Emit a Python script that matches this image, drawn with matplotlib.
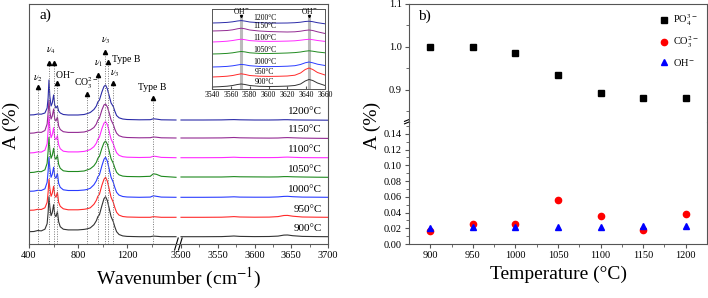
import numpy as np
import matplotlib
matplotlib.use('Agg')
import matplotlib.pyplot as plt
from matplotlib.ticker import FixedLocator, MultipleLocator

plt.rcParams['font.family'] = ['Liberation Serif', 'DejaVu Serif']
plt.rcParams['mathtext.fontset'] = 'stix'

# ---------------- data: panel a (FTIR spectra, a.u., offset per temperature) ----------------
temps = ['900', '950', '1000', '1050', '1100', '1150', '1200']
colors = ['#333333', '#ff2a2a', '#2a3cff', '#1f8a1f', '#ff2aff', '#932a93', '#2a2aa8']
offsets = [7.3, 26.7, 46.7, 66.7, 86.3, 106, 124]

wn_left = [400, 440, 472, 500, 530, 548, 556, 563, 570, 580, 590, 601, 610, 620, 632, 642,
           655, 680, 720, 800, 850, 873, 900, 930, 950, 962, 975, 995, 1012, 1025, 1040,
           1055, 1070, 1088, 1100, 1115, 1135, 1165, 1200, 1300, 1390, 1415, 1440, 1480, 1600]

ab_900 = [5.0, 5.2, 6.2, 5.8, 7.5, 13, 24, 40, 30, 21, 24, 32, 22, 20, 25, 15, 10, 7.5, 6.8,
          6.8, 7.3, 7.8, 8.8, 12, 16, 20, 22, 31, 38, 40, 36, 28, 20, 15, 10, 5, 2.2, 0.8,
          0.3, 0, 0, 0.6, 0.4, 0, 0]
ab_950 = [7, 7.2, 8, 7.8, 9.5, 15, 25, 38, 29, 21, 24, 31, 22, 20, 25, 15, 11, 8.5, 7.5,
          7.5, 8, 8.5, 9.5, 13, 17, 21, 23, 32, 38, 40, 36, 28, 20, 15, 10, 5, 2.2, 0.8,
          0.3, 0, 0, 0.6, 0.4, 0, 0]
ab_1000 = [6, 6.2, 7, 6.8, 8.5, 15, 26, 40, 29, 20, 23, 30, 21, 19, 24, 14, 10, 7.5, 6.8,
           6.8, 7.3, 7.8, 9, 12.5, 16.5, 20.5, 22.5, 31.5, 38, 40, 36, 28, 20, 15, 10, 5,
           2.2, 0.8, 0.3, 0, 0.2, 1.5, 1, 0.2, 0]
ab_1050 = [4.7, 5, 5.8, 5.6, 7.5, 14, 26, 40, 28, 19, 22, 29, 20, 18, 22, 13, 9, 6.5, 5.8,
           5.8, 6.3, 7.3, 8.5, 11.5, 15, 19, 21, 29, 34.5, 36.3, 33, 26, 18.5, 14, 9.5, 5,
           2.5, 1.2, 0.8, 0.6, 1, 3.5, 3, 1, 0]
ab_1100 = [4.7, 5, 5.8, 5.6, 7.5, 14, 27, 42, 29, 20, 23, 30, 20, 18, 22, 13, 9, 6.5, 5.8,
           5.8, 6.3, 7, 8.2, 11, 14.5, 18.5, 20.5, 29, 34.5, 36, 33, 26, 18.5, 14, 9.5, 5,
           2.4, 1, 0.5, 0.2, 0.4, 1.5, 1.2, 0.3, 0]
ab_1150 = [4.7, 5, 5.8, 5.6, 7.5, 14, 25, 38, 27, 19, 22, 29, 19, 17, 21, 12, 8.5, 6.3, 5.6,
           5.6, 6, 6.8, 8, 10.5, 14, 18, 20, 28, 33, 34, 31, 25, 18, 13.5, 9, 4.8, 2.3, 1,
           0.5, 0.2, 0.3, 1, 0.8, 0.2, 0]
ab_1200 = [5, 5.2, 6, 5.8, 7, 12, 22, 40, 24, 14, 17, 25, 15, 12, 14, 9, 7, 5.5, 5, 5, 5.5,
           6.3, 7.5, 10.5, 14, 18, 20, 28, 33.5, 35, 31, 24, 17, 13.5, 9, 4.5, 2.2, 1, 0.5,
           0.2, 0.3, 1.2, 0.9, 0.2, 0]
ab_left = [ab_900, ab_950, ab_1000, ab_1050, ab_1100, ab_1150, ab_1200]

wn_right = [3500, 3530, 3555, 3565, 3572, 3580, 3600, 3620, 3632, 3640, 3645, 3652, 3665, 3685, 3700]
abr_900 = [0, 0, 0.1, 0.4, 0.7, 0.3, 0.1, 0.2, 0.6, 1.6, 1.7, 1.0, 0.3, 0.1, 0]
abr_950 = [0, 0, 0.1, 0.4, 0.7, 0.3, 0.1, 0.2, 0.7, 1.8, 1.9, 1.1, 0.3, 0.1, 0]
abr_1000 = [0, 0, 0.1, 0.3, 0.5, 0.2, 0.1, 0.1, 0.4, 0.9, 1.0, 0.6, 0.2, 0.1, 0]
abr_1050 = [0.3, 0.3, 0.3, 0.5, 0.7, 0.5, 0.4, 0.3, 0.4, 0.7, 0.7, 0.5, 0.3, 0.1, 0]
abr_1100 = [0, 0, 0.1, 0.3, 0.5, 0.2, 0.1, 0.1, 0.2, 0.5, 0.6, 0.4, 0.1, 0, 0]
abr_1150 = [0, 0, 0.1, 0.3, 0.5, 0.2, 0, -0.1, 0, 0.3, 0.4, 0.2, -0.1, -0.3, -0.4]
abr_1200 = [0, 0, 0.1, 0.3, 0.4, 0.2, 0, 0, 0.1, 0.3, 0.3, 0.1, 0, -0.1, -0.2]
ab_right = [abr_900, abr_950, abr_1000, abr_1050, abr_1100, abr_1150, abr_1200]

# inset (OH stretching region)
wn_inset = [3540, 3548, 3556, 3562, 3567, 3571, 3575, 3580, 3590, 3600, 3610, 3620, 3628,
            3634, 3639, 3643, 3647, 3652, 3660]
inset_offsets = [2, 12, 22, 35, 47, 58, 66]
in_900 = [0, 0.3, 0.8, 1.5, 2.5, 3.0, 2.5, 1.5, 0.7, 0.5, 0.6, 0.9, 1.5, 3, 6, 7.5, 6.5, 4, 1.5]
in_950 = [0, 0.3, 0.8, 1.5, 2.5, 3.2, 2.6, 1.5, 0.8, 0.6, 0.7, 1.0, 1.8, 4, 7.5, 9, 7.5, 4.5, 2]
in_1000 = [0, 0.2, 0.6, 1.2, 2, 2.6, 2.2, 1.3, 0.6, 0.4, 0.5, 0.8, 1.3, 2.5, 4.2, 5, 4.2, 2.8, 1.5]
in_1050 = [0, 0.2, 0.6, 1.2, 2, 2.5, 2.1, 1.2, 0.6, 0.5, 0.7, 1.0, 1.4, 2, 2.8, 3.2, 2.8, 2, 1.2]
in_1100 = [0, 0.3, 0.8, 1.5, 2.3, 2.8, 2.3, 1.4, 0.8, 0.6, 0.7, 0.9, 1.2, 1.8, 2.4, 2.7, 2.3, 1.5, 0.6]
in_1150 = [0, 0.2, 0.5, 1.2, 2.2, 2.8, 2.2, 1, 0, -0.5, -0.8, -1, -0.8, -0.2, 0.6, 1, 0.5, -0.8, -2.5]
in_1200 = [0, 0.2, 0.6, 1.2, 2, 2.4, 1.9, 1, 0.3, 0, -0.1, 0, 0.3, 0.8, 1.5, 1.8, 1.3, 0.3, -0.8]
ab_inset = [in_900, in_950, in_1000, in_1050, in_1100, in_1150, in_1200]
oh_bands = [3571, 3643]

# band assignments: position, arrow tip level, label, label x, label y
band_pos = [472, 563, 601, 632, 873, 962, 1020, 1046, 1088, 1415]
band_tip = [157, 181, 181, 161, 150, 169, 192, 182, 161, 146]
band_labels = [r'$\nu_2$', r'$\nu_4$', r'OH$^{-}$', r'CO$_3^{2-}$', r'$\nu_1$', r'$\nu_3$',
               'Type B', r'$\nu_3$', 'Type B']
label_x = [472, 582, 695, 866, 966, 1028, 1190, 1097, 1408]
label_y = [166, 194, 169, 161, 181, 204, 185, 171, 157]

# ---------------- data: panel b ----------------
temperature = [900, 950, 1000, 1050, 1100, 1150, 1200]
po4 = [1.000, 1.000, 0.985, 0.934, 0.893, 0.882, 0.882]
co3 = [0.017, 0.026, 0.026, 0.056, 0.036, 0.018, 0.038]
oh = [0.020, 0.022, 0.022, 0.021, 0.021, 0.023, 0.023]

frame = '#555555'

# broken wavenumber axis: 400-1600 and 3500-3700
bp_x = [400, 1600, 3500, 3700]
bp_u = [0, 147, 152, 299]


def fwd(x):
    x = np.asarray(x, float)
    u = np.interp(x, bp_x, bp_u)
    u = np.where(x < 400, (x - 400) * 0.1225, u)
    return np.where(x > 3700, 299 + (x - 3700) * 0.735, u)


def inv(u):
    u = np.asarray(u, float)
    x = np.interp(u, bp_u, bp_x)
    x = np.where(u < 0, 400 + u / 0.1225, x)
    return np.where(u > 299, 3700 + (u - 299) / 0.735, x)


fig = plt.figure(figsize=(7.08, 2.98), dpi=100)

# ---------------- panel a ----------------
ax = fig.add_axes([29 / 708, 54 / 298, 299 / 708, 240 / 298])
ax.set_xscale('function', functions=(fwd, inv))
ax.set_xlim(400, 3700)
ax.set_ylim(0, 240)

for i, t in enumerate(temps):
    ax.plot(wn_left, np.array(ab_left[i]) + offsets[i], color=colors[i], lw=0.8)
    ax.plot(wn_right, np.array(ab_right[i]) + offsets[i], color=colors[i], lw=0.8)
    ax.text(3692, offsets[i] + 8, t + '°C', ha='right', va='center', fontsize=8)

ax.vlines(band_pos, 0, band_tip, colors='#777777', linestyles=(0, (1, 1.5)), lw=0.7)
ax.plot(band_pos, band_tip, '^', color='black', ms=3, ls='none')
for lx, ly, lt in zip(label_x, label_y, band_labels):
    ax.text(lx, ly, lt, ha='center', va='center', fontsize=7)

ax.xaxis.set_major_locator(FixedLocator([400, 800, 1200, 3500, 3550, 3600, 3650, 3700]))
ax.xaxis.set_minor_locator(FixedLocator([600, 1000, 1400, 3525, 3575, 3625, 3675]))
ax.set_yticks([])
ax.tick_params(axis='x', which='major', direction='out', length=3, labelsize=7.5, color=frame, pad=2)
ax.tick_params(axis='x', which='minor', direction='out', length=2, color=frame)
for s in ax.spines.values():
    s.set_color(frame)
    s.set_linewidth(0.8)

# axis break marks
for xb in (0.493, 0.506):
    ax.plot([xb - 0.006, xb + 0.006], [-0.025, 0.025], transform=ax.transAxes,
            color='black', lw=0.8, clip_on=False)
ax.text(0.035, 0.955, 'a)', transform=ax.transAxes, fontsize=11, va='center')
ax.set_xlabel('Wavenumber (cm$^{-1}$)', fontsize=14, labelpad=4)
fig.text(11 / 708, 1 - 125 / 298, 'A (%)', rotation=90, fontsize=14, ha='center', va='center')

# inset
axi = fig.add_axes([212 / 708, 209 / 298, 113 / 708, 80 / 298])
axi.set_xlim(3540, 3660)
axi.set_ylim(0, 80)
for xb in oh_bands:
    axi.axvline(xb, ymax=0.9, color='#bbbbbb', lw=2.2, zorder=0)
    axi.text(xb, 78, r'OH$^{-}$', ha='center', va='center', fontsize=5.5)
    axi.plot(xb, 73.5, 'v', color='black', ms=1.5)
for i, t in enumerate(temps):
    axi.plot(wn_inset, np.array(ab_inset[i]) + inset_offsets[i], color=colors[i], lw=0.7)
    axi.text(3596, inset_offsets[i] + 4.5, t + '°C', ha='center', va='center', fontsize=5.5)
axi.set_xticks([3540, 3560, 3580, 3600, 3620, 3640, 3660])
axi.set_yticks([])
axi.tick_params(axis='x', direction='in', length=2, labelsize=5.5, pad=1.5, color=frame)
for s in axi.spines.values():
    s.set_color(frame)
    s.set_linewidth(0.7)

# ---------------- panel b ----------------
axl = fig.add_axes([409 / 708, 54 / 298, 298 / 708, 122 / 298])
axu = fig.add_axes([409 / 708, 176 / 298, 298 / 708, 118 / 298])

for a in (axl, axu):
    a.plot(temperature, po4, 's', color='black', ms=4.5, label='PO$_4^{3-}$')
    a.plot(temperature, co3, 'o', color='red', ms=4.5, label='CO$_3^{2-}$')
    a.plot(temperature, oh, '^', color='blue', ms=5, label='OH$^{-}$')
    a.set_xlim(875, 1225)
    for s in a.spines.values():
        s.set_color(frame)
        s.set_linewidth(0.8)
    a.tick_params(which='both', direction='out', color=frame, labelsize=7.5, pad=2)
    a.tick_params(which='major', length=3)
    a.tick_params(which='minor', length=2)

axl.set_ylim(0, 0.155)
axl.yaxis.set_major_locator(MultipleLocator(0.02))
axl.yaxis.set_minor_locator(MultipleLocator(0.01))
axl.yaxis.set_major_formatter(matplotlib.ticker.FormatStrFormatter('%.2f'))
axl.xaxis.set_major_locator(FixedLocator(temperature))
axl.xaxis.set_minor_locator(FixedLocator([925, 975, 1025, 1075, 1125, 1175]))
axl.spines['top'].set_visible(False)

axu.set_ylim(0.825, 1.1)
axu.yaxis.set_major_locator(MultipleLocator(0.1))
axu.yaxis.set_minor_locator(MultipleLocator(0.05))
axu.yaxis.set_major_formatter(matplotlib.ticker.FormatStrFormatter('%.1f'))
axu.set_xticks([])
axu.spines['bottom'].set_visible(False)

axl.plot([-0.015, 0.015], [0.985, 1.015], transform=axl.transAxes, color='black', lw=0.8, clip_on=False)
axl.plot([-0.015, 0.015], [1.005, 1.035], transform=axl.transAxes, color='black', lw=0.8, clip_on=False)

axu.legend(loc='upper right', frameon=False, fontsize=7.5, handletextpad=0.3,
           labelspacing=0.6, borderaxespad=0.4, handlelength=1.2)
axu.text(0.03, 0.9, 'b)', transform=axu.transAxes, fontsize=11, va='center')
axl.set_xlabel('Temperature (°C)', fontsize=14, labelpad=4)
fig.text(372 / 708, 1 - 125 / 298, 'A (%)', rotation=90, fontsize=14, ha='center', va='center')

fig.savefig('out.png', dpi=100)
